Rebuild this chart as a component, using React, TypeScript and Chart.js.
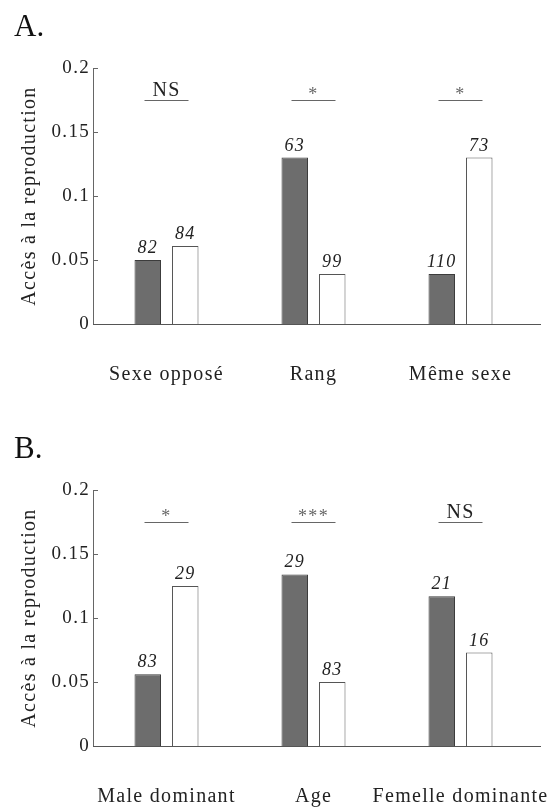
import React, { useEffect, useRef } from 'react';
import { Chart, registerables } from 'chart.js';

Chart.register(...registerables);

const FONT = "'Liberation Serif', 'Times New Roman', serif";

// Panel A
const categoriesA = ['Sexe opposé', 'Rang', 'Même sexe'];
const grayA = [0.05, 0.13, 0.039];
const whiteA = [0.061, 0.039, 0.13];
const nGrayA = ['82', '63', '110'];
const nWhiteA = ['84', '99', '73'];
const sigA = ['NS', '*', '*'];

// Panel B
const categoriesB = ['Male dominant', 'Age', 'Femelle dominante'];
const grayB = [0.056, 0.134, 0.117];
const whiteB = [0.125, 0.05, 0.073];
const nGrayB = ['83', '29', '21'];
const nWhiteB = ['29', '83', '16'];
const sigB = ['*', '***', 'NS'];

const sigLineValue = 0.175;
const yTicks = [0, 0.05, 0.1, 0.15, 0.2];
const yTickLabels = ['0', '0.05', '0.1', '0.15', '0.2'];
const yTitle = 'Accès à la reproduction';

function makeConfig(
  panelLabel: string,
  categories: string[],
  gray: number[],
  white: number[],
  nGray: string[],
  nWhite: string[],
  sig: string[]
): any {
  const spacing = '1.3px';
  const decor = {
    id: 'decor',
    beforeUpdate(chart: any) {
      chart.ctx.letterSpacing = spacing;
    },
    beforeDraw(chart: any) {
      chart.ctx.letterSpacing = spacing;
    },
    afterDraw(chart: any) {
      const ctx = chart.ctx;
      const { left, right, bottom } = chart.chartArea;
      const xs = chart.scales.x;
      const ys = chart.scales.y;
      ctx.save();
      ctx.letterSpacing = spacing;
      // x axis line (extends a bit past the last category)
      ctx.strokeStyle = '#555';
      ctx.lineWidth = 1;
      const by = Math.round(bottom) + 0.5;
      ctx.beginPath();
      ctx.moveTo(left, by);
      ctx.lineTo(right + 7, by);
      ctx.stroke();
      // inward ticks on y axis
      ctx.strokeStyle = '#666';
      ctx.beginPath();
      yTicks.forEach((v) => {
        if (v === 0) return;
        const py = Math.round(ys.getPixelForValue(v)) + 0.5;
        ctx.moveTo(left, py);
        ctx.lineTo(left + 5, py);
      });
      ctx.stroke();

      // panel label
      ctx.fillStyle = '#111';
      ctx.font = `31px ${FONT}`;
      ctx.textAlign = 'left';
      ctx.textBaseline = 'alphabetic';
      ctx.letterSpacing = '0px';
      ctx.fillText(panelLabel, 14, 36);
      ctx.letterSpacing = spacing;

      // significance lines
      const ly = Math.round(ys.getPixelForValue(sigLineValue)) + 0.5;
      categories.forEach((_, i) => {
        const cx = xs.getPixelForValue(i);
        ctx.strokeStyle = '#666';
        ctx.beginPath();
        ctx.moveTo(cx - 22, ly);
        ctx.lineTo(cx + 22, ly);
        ctx.stroke();
        ctx.textAlign = 'center';
        ctx.textBaseline = 'alphabetic';
        if (sig[i] === 'NS') {
          ctx.fillStyle = '#222';
          ctx.font = `20px ${FONT}`;
          ctx.fillText(sig[i], cx, ly - 5);
        } else {
          ctx.fillStyle = '#666';
          ctx.font = `18px ${FONT}`;
          ctx.fillText(sig[i], cx, ly - 1);
        }
      });

      // sample size labels
      ctx.fillStyle = '#222';
      ctx.font = `italic 18px ${FONT}`;
      ctx.textAlign = 'center';
      ctx.textBaseline = 'alphabetic';
      [nGray, nWhite].forEach((labels, di) => {
        const meta = chart.getDatasetMeta(di);
        meta.data.forEach((bar: any, i: number) => {
          ctx.fillText(labels[i], bar.x, bar.y - 7);
        });
      });
      ctx.restore();
    },
  };

  return {
    type: 'bar',
    data: {
      labels: categories,
      datasets: [
        {
          data: gray,
          backgroundColor: '#6d6d6d',
          borderColor: '#3c3c3c',
          borderWidth: 1,
          categoryPercentage: 0.51,
          barPercentage: 0.707,
        },
        {
          data: white,
          backgroundColor: '#ffffff',
          borderColor: '#555555',
          borderWidth: 1,
          categoryPercentage: 0.51,
          barPercentage: 0.707,
        },
      ],
    },
    options: {
      responsive: false,
      animation: false,
      devicePixelRatio: 1,
      layout: { padding: { left: 14, right: 18, top: 68, bottom: 0 } },
      plugins: {
        legend: { display: false },
        tooltip: { enabled: false },
        title: { display: false },
      },
      scales: {
        x: {
          type: 'category',
          offset: true,
          grid: { display: false, drawTicks: false },
          border: { display: false },
          ticks: {
            color: '#222',
            font: { family: FONT, size: 20 },
            padding: 39,
            maxRotation: 0,
            minRotation: 0,
            autoSkip: false,
          },
          afterFit: (scale: any) => {
            scale.height = 61;
            scale.paddingLeft = 0;
            scale.paddingRight = 0;
          },
        },
        y: {
          min: 0,
          max: 0.2,
          grid: { display: false, drawTicks: false },
          border: { display: true, color: '#666', width: 1 },
          afterBuildTicks: (scale: any) => {
            scale.ticks = yTicks.map((v) => ({ value: v }));
          },
          ticks: {
            color: '#222',
            font: { family: FONT, size: 19 },
            padding: 3,
            callback: (v: number) => {
              const idx = yTicks.findIndex((t) => Math.abs(t - v) < 1e-9);
              return idx >= 0 ? yTickLabels[idx] : '';
            },
          },
          title: {
            display: true,
            text: yTitle,
            color: '#222',
            font: { family: FONT, size: 20 },
            padding: { top: 4, bottom: 4 },
          },
          afterFit: (scale: any) => {
            scale.width = 79;
          },
        },
      },
    },
    plugins: [decor],
  };
}

function Panel(props: {
  top: number;
  label: string;
  categories: string[];
  gray: number[];
  white: number[];
  nGray: string[];
  nWhite: string[];
  sig: string[];
}) {
  const ref = useRef<HTMLCanvasElement>(null);
  useEffect(() => {
    const chart = new Chart(
      ref.current as HTMLCanvasElement,
      makeConfig(props.label, props.categories, props.gray, props.white, props.nGray, props.nWhite, props.sig)
    );
    return () => chart.destroy();
  }, []);
  return (
    <canvas
      ref={ref}
      width={552}
      height={385}
      style={{ position: 'absolute', left: 0, top: props.top, display: 'block' }}
    />
  );
}

export default function App() {
  return (
    <div style={{ position: 'absolute', left: 0, top: 0, width: 552, height: 807, background: '#fff' }}>
      <Panel top={0} label="A." categories={categoriesA} gray={grayA} white={whiteA} nGray={nGrayA} nWhite={nWhiteA} sig={sigA} />
      <Panel top={422} label="B." categories={categoriesB} gray={grayB} white={whiteB} nGray={nGrayB} nWhite={nWhiteB} sig={sigB} />
    </div>
  );
}
